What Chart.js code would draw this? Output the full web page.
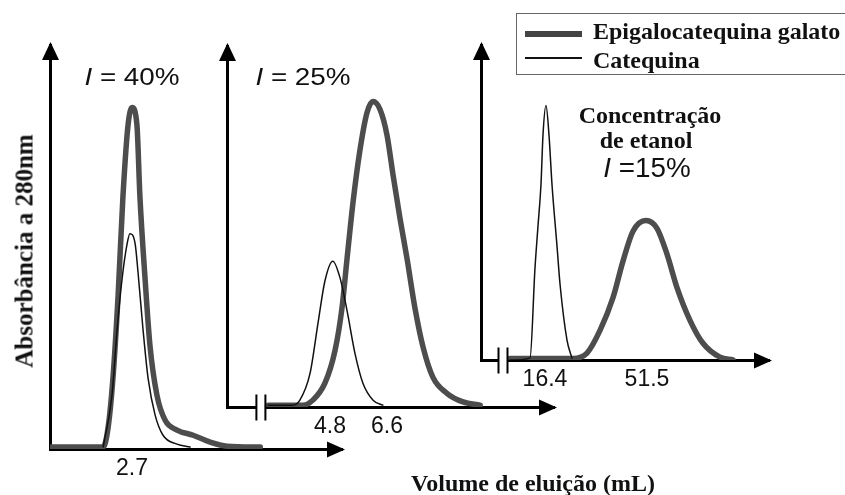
<!DOCTYPE html>
<html>
<head>
<meta charset="utf-8">
<script src="https://cdn.jsdelivr.net/npm/chart.js@4.4.1/dist/chart.umd.min.js"></script>
<style>
  body { margin: 0; background: #fff; }
  #wrap { position: relative; width: 845px; height: 495px; overflow: hidden; background: #fff; }
  #wrap canvas { position: absolute; left: 0; top: 0; }
  .lbl { position: absolute; white-space: nowrap; line-height: 24px; color: #111; }
  .sans { font-family: 'Liberation Sans', Arial, sans-serif; font-size: 24px; }
  .serif { font-family: 'Liberation Serif', 'Times New Roman', serif; font-weight: bold; font-size: 24px; }
  .mid { transform: translateX(-50%); }
</style>
</head>
<body>
<div id="wrap">
  <canvas id="p40" width="845" height="495"></canvas>
  <canvas id="p25" width="845" height="495"></canvas>
  <canvas id="p15" width="845" height="495"></canvas>

  <div class="lbl sans" id="t40" style="left:132px;top:65px;transform:translateX(-50%) scaleX(1.16)"></div>
  <div class="lbl sans" id="t25" style="left:303px;top:65px;transform:translateX(-50%) scaleX(1.16)"></div>
  <div class="lbl serif mid" style="left:650px;top:103px">Concentração</div>
  <div class="lbl serif mid" style="left:646px;top:128px">de etanol</div>
  <div class="lbl sans" id="t15" style="left:647px;top:155px;font-size:27px;line-height:27px;transform:translateX(-50%) scaleX(1.03)"></div>

  <div style="position:absolute;left:516px;top:13px;width:340px;height:60px;border:1.5px solid #666;"></div>
  <div style="position:absolute;left:525px;top:31px;width:57px;height:6px;background:#444;"></div>
  <div style="position:absolute;left:525px;top:57px;width:57px;height:1.5px;background:#111;"></div>
  <div class="lbl serif" id="leg0" style="left:593px;top:19px"></div>
  <div class="lbl serif" id="leg1" style="left:593px;top:48px"></div>

  <div class="lbl serif mid" style="left:533px;top:471px">Volume de eluição (mL)</div>
  <div class="lbl serif" style="left:24px;top:251px;font-size:25px;line-height:25px;transform:translate(-50%,-50%) rotate(-90deg)">Absorbância a 280nm</div>
</div>

<script>
// series names and ethanol concentrations
const seriesNames = ['Epigalocatequina galato', 'Catequina'];
const concentrations = ['40%', '25%', '15%'];

// tick labels (elution volume, mL)
const ticks40 = [2.7];
const ticks25 = [4.8, 6.6];
const ticks15 = [16.4, 51.5];

// I = 40%
const egcg40X = [0, 1.75, 1.91, 2.07, 2.24, 2.40, 2.57, 2.70, 2.86, 2.96, 3.13, 3.29, 3.52, 3.79, 4.18, 4.71, 5.27, 5.83, 6.92];
const egcg40Y = [0.005, 0.005, 0.052, 0.174, 0.378, 0.624, 0.803, 0.845, 0.803, 0.624, 0.420, 0.256, 0.133, 0.071, 0.047, 0.034, 0.017, 0.007, 0.005];
const cat40X = [1.75, 2.04, 2.21, 2.37, 2.54, 2.63, 2.80, 2.90, 3.06, 3.23, 3.46, 3.72, 4.18, 4.61];
const cat40Y = [0.005, 0.133, 0.297, 0.420, 0.509, 0.533, 0.509, 0.435, 0.297, 0.174, 0.084, 0.034, 0.012, 0.005];

// I = 25%
const egcg25X = [2.85, 3.95, 4.26, 4.64, 4.96, 5.18, 5.34, 5.53, 5.75, 5.97, 6.16, 6.38, 6.60, 6.79, 7.01, 7.23, 7.48, 7.74, 8.05, 8.49, 9.00, 9.54];
const egcg25Y = [0.005, 0.005, 0.019, 0.066, 0.157, 0.275, 0.412, 0.569, 0.714, 0.816, 0.846, 0.824, 0.753, 0.643, 0.522, 0.412, 0.275, 0.165, 0.082, 0.038, 0.014, 0.005];
const cat25X = [2.85, 3.63, 3.85, 4.17, 4.42, 4.64, 4.89, 5.12, 5.34, 5.59, 5.84, 6.16, 6.47];
const cat25Y = [0.005, 0.005, 0.019, 0.093, 0.231, 0.349, 0.404, 0.357, 0.266, 0.148, 0.066, 0.019, 0.005];

// I = 15%
const egcg15X = [4.4, 26.03, 30.85, 35.33, 39.80, 43.24, 46.68, 51.15, 54.94, 58.38, 61.82, 66.29, 70.77, 76.62, 81.09];
const egcg15Y = [0.005, 0.005, 0.022, 0.094, 0.198, 0.314, 0.409, 0.443, 0.418, 0.336, 0.230, 0.126, 0.053, 0.009, 0];
const cat15X = [4.4, 11.24, 12.96, 13.99, 15.02, 15.71, 16.74, 17.78, 18.81, 20.53, 21.56, 23.97, 25.69];
const cat15Y = [0, 0.006, 0.292, 0.425, 0.557, 0.714, 0.808, 0.714, 0.557, 0.362, 0.242, 0.063, 0.006];

// text
document.getElementById('t40').innerHTML = '<i>I</i> = ' + concentrations[0];
document.getElementById('t25').innerHTML = '<i>I</i> = ' + concentrations[1];
document.getElementById('t15').innerHTML = '<i>I</i> =' + concentrations[2];
document.getElementById('leg0').textContent = seriesNames[0];
document.getElementById('leg1').textContent = seriesNames[1];

Chart.defaults.font.family = "'Liberation Sans', Arial, sans-serif";

// arrow heads on the axes + axis break marks
const axisArrows = {
  id: 'axisArrows',
  afterDraw(chart, args, opts) {
    const ctx = chart.ctx;
    const a = chart.chartArea;
    ctx.save();
    ctx.fillStyle = '#000';
    ctx.beginPath();
    ctx.moveTo(a.left + 0.5, a.top - 3);
    ctx.lineTo(a.left - 8, a.top + 15);
    ctx.lineTo(a.left + 9, a.top + 15);
    ctx.closePath();
    ctx.fill();
    ctx.beginPath();
    ctx.moveTo(a.right + 3, a.bottom + 0.5);
    ctx.lineTo(a.right - 15, a.bottom - 7.5);
    ctx.lineTo(a.right - 15, a.bottom + 8.5);
    ctx.closePath();
    ctx.fill();
    if (opts.breakAt != null) {
      const x = chart.scales.x.getPixelForValue(opts.breakAt);
      const y = a.bottom + 0.5;
      ctx.fillStyle = '#fff';
      ctx.fillRect(x - 4, y - 3, 8, 6);
      ctx.strokeStyle = '#000';
      ctx.lineWidth = 2;
      ctx.beginPath();
      ctx.moveTo(x - 4.5, y - 13); ctx.lineTo(x - 4.5, y + 13);
      ctx.moveTo(x + 4.5, y - 13); ctx.lineTo(x + 4.5, y + 13);
      ctx.stroke();
    }
    ctx.restore();
  }
};

function toPts(xs, ys) {
  return xs.map((x, i) => ({ x: x, y: ys[i] }));
}

const AXIS_H = 40; // fixed height of the x-axis band (tick labels)

function makePanel(id, pad, xMin, xMax, tickVals, egX, egY, catX, catY, breakAt) {
  return new Chart(document.getElementById(id), {
    type: 'line',
    data: {
      datasets: [
        { label: seriesNames[0], data: toPts(egX, egY), borderColor: '#4d4d4d', borderWidth: 5.5, order: 2 },
        { label: seriesNames[1], data: toPts(catX, catY), borderColor: '#111', borderWidth: 1.5, order: 1 }
      ]
    },
    options: {
      responsive: false,
      animation: false,
      layout: { padding: pad },
      elements: {
        point: { radius: 0 },
        line: { cubicInterpolationMode: 'monotone', borderJoinStyle: 'round', borderCapStyle: 'round' }
      },
      plugins: {
        legend: { display: false },
        tooltip: { enabled: false },
        axisArrows: { breakAt: breakAt }
      },
      scales: {
        x: {
          type: 'linear', min: xMin, max: xMax, bounds: 'data',
          grid: { display: false, drawTicks: false },
          border: { display: true, color: '#000', width: 3 },
          ticks: { autoSkip: false, maxRotation: 0, padding: 6, color: '#111', font: { size: 23 },
                   callback: v => v.toFixed(1) },
          afterBuildTicks: s => { s.ticks = tickVals.map(v => ({ value: v })); },
          afterFit: s => { s.height = AXIS_H; }
        },
        y: {
          min: 0, max: 1,
          grid: { display: false, drawTicks: false },
          border: { display: true, color: '#000', width: 3 },
          ticks: { display: false },
          afterFit: s => { s.width = 0; }
        }
      }
    },
    plugins: [axisArrows]
  });
}

makePanel('p40', { left: 50, top: 45, right: 503, bottom: 46 - AXIS_H }, 0, 9.61, ticks40,
  egcg40X, egcg40Y, cat40X, cat40Y, null);
makePanel('p25', { left: 227, top: 46, right: 291, bottom: 88 - AXIS_H }, 1.55, 11.87, ticks25,
  egcg25X, egcg25Y, cat25X, cat25Y, 2.62);
makePanel('p15', { left: 481, top: 45, right: 76, bottom: 135 - AXIS_H }, -5.62, 93.48, ticks15,
  egcg15X, egcg15Y, cat15X, cat15Y, 1.95);
</script>
</body>
</html>
